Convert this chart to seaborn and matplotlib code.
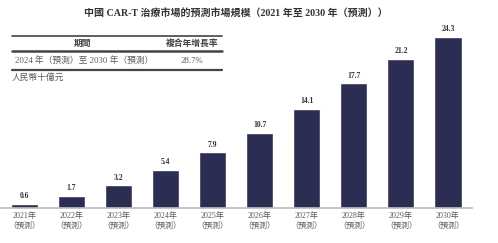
import matplotlib
matplotlib.use('Agg')
import matplotlib.pyplot as plt
import seaborn as sns
import pandas as pd
from matplotlib.lines import Line2D

years = ["2021年\n（預測）", "2022年\n（預測）", "2023年\n（預測）", "2024年\n（預測）", "2025年\n（預測）",
         "2026年\n（預測）", "2027年\n（預測）", "2028年\n（預測）", "2029年\n（預測）", "2030年\n（預測）"]
market_size = [0.6, 1.7, 3.2, 5.4, 7.9, 10.7, 14.1, 17.7, 21.2, 24.3]

title = "中國 CAR-T 治療市場的預測市場規模（2021 年至 2030 年（預測））"
table_header = ["期間", "複合年增長率"]
table_row = ["2024 年（預測）至 2030 年（預測）", "28.7%"]
unit_label = "人民幣十億元"

sns.set_style("white")
fonts = ['Liberation Serif', 'Noto Sans CJK TC', 'DejaVu Sans']
plt.rcParams['font.family'] = fonts

bar_color = "#2b2d53"
text_gray = "#5a5a5a"

df = pd.DataFrame({"year": years, "value": market_size})

W, H = 498, 243
fig = plt.figure(figsize=(W / 100, H / 100), dpi=100)
ax = fig.add_axes([1 / W, 35 / H, 470.5 / W, 208 / H])

sns.barplot(data=df, x="year", y="value", color=bar_color, width=0.575,
            saturation=1, ax=ax)
ax.set_xlim(-0.5, 9.5)
ax.set_ylim(0, 208 / 7.04)

for i, v in enumerate(market_size):
    ax.text(i, v + 0.55, f"{v}", ha="center", va="bottom", fontsize=5.5,
            fontweight="bold", color="#333333")

sns.despine(ax=ax, left=True, top=True, right=True)
ax.spines["bottom"].set_color("#bbbbbb")
ax.spines["bottom"].set_linewidth(1.2)
ax.set_yticks([])
ax.set_xlabel("")
ax.set_ylabel("")
ax.tick_params(axis="x", length=0, labelsize=5.8, labelcolor=text_gray, pad=3)
for lbl in ax.get_xticklabels():
    lbl.set_linespacing(1.3)

# title
fig.text(236 / W, 1 - 13 / H, title, ha="center", va="center", fontsize=7.2,
         fontweight="bold", color="#333333")

# small CAGR table
for y, lw in [(36, 1.2), (51, 1.8), (70, 1.6)]:
    fig.add_artist(Line2D([12 / W, 222 / W], [1 - y / H, 1 - y / H],
                          color="#444444", lw=lw, transform=fig.transFigure))
fig.text(83 / W, 1 - 43.5 / H, table_header[0], ha="center", va="center",
         fontsize=6.3, fontweight="bold", color="#444444")
fig.text(192 / W, 1 - 43.5 / H, table_header[1], ha="center", va="center",
         fontsize=6.3, fontweight="bold", color="#444444")
fig.text(15 / W, 1 - 61 / H, table_row[0], ha="left", va="center",
         fontsize=6.3, color=text_gray)
fig.text(192 / W, 1 - 61 / H, table_row[1], ha="center", va="center",
         fontsize=6.3, color=text_gray)
fig.text(12 / W, 1 - 77.5 / H, unit_label, ha="left", va="center",
         fontsize=6.3, color=text_gray)

fig.savefig("out.png", dpi=100)
plt.close(fig)
